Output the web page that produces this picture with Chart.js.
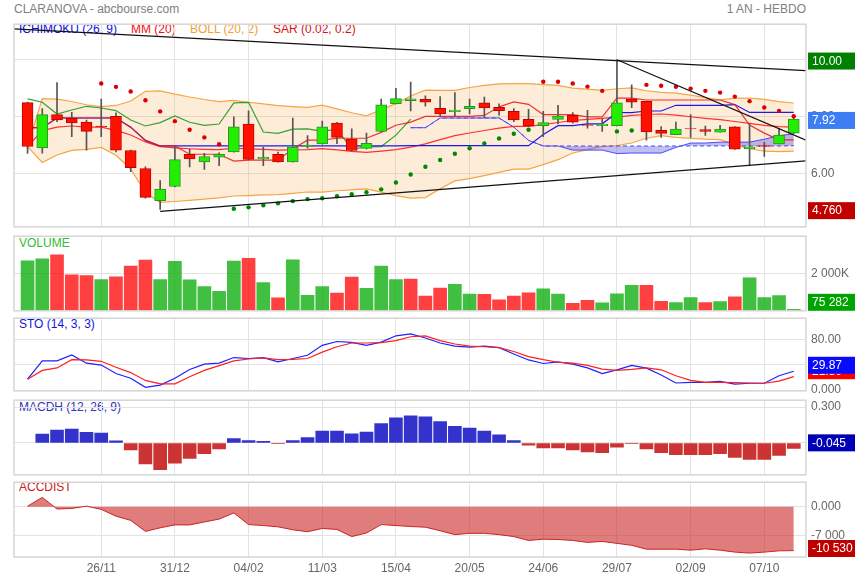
<!DOCTYPE html>
<html>
<head>
<meta charset="utf-8">
<script src="https://cdn.jsdelivr.net/npm/chart.js@4.4.0/dist/chart.umd.min.js"></script>
<style>
  body { margin: 0; background: #fff; font-family: "Liberation Sans", Arial, sans-serif; }
  #wrap { position: relative; width: 855px; height: 580px; overflow: hidden; }
  #wrap canvas { position: absolute; left: 0; }
  .t { position: absolute; font-size: 12px; line-height: 14px; white-space: nowrap; }
</style>
</head>
<body>
<div id="wrap">
  <div class="t" style="left:14px;top:2px;color:#808080">CLARANOVA - abcbourse.com</div>
  <div class="t" style="right:49px;top:2px;color:#808080">1 AN - HEBDO</div>
  <div class="t" style="left:19px;top:22px;color:#1010dd">ICHIMOKU (26, 9)</div>
  <div class="t" style="left:131px;top:22px;color:#ee1010">MM (20)</div>
  <div class="t" style="left:190px;top:22px;color:#f5a030">BOLL (20, 2)</div>
  <div class="t" style="left:273px;top:22px;color:#dd1010">SAR (0.02, 0.2)</div>
  <div class="t" style="left:19px;top:236px;color:#33bb33">VOLUME</div>
  <div class="t" style="left:19px;top:317px;color:#1515dd">STO (14, 3, 3)</div>
  <div class="t" style="left:19px;top:400px;color:#3333bb">MACDH (12, 26, 9)</div>
  <div class="t" style="left:19px;top:480px;color:#cc2020">ACCDIST</div>

  <canvas id="cPrice" width="855" height="227" style="top:12px"></canvas>
  <canvas id="cVol" width="855" height="99" style="top:224px"></canvas>
  <canvas id="cSto" width="855" height="97" style="top:306px"></canvas>
  <canvas id="cMacd" width="855" height="99" style="top:388px"></canvas>
  <canvas id="cAcc" width="855" height="110" style="top:470px"></canvas>
</div>

<script>
const FONT = '"Liberation Sans", Arial, sans-serif';

// weekly candles, one year
const weeks = ['22/10','29/10','05/11','12/11','19/11','26/11','03/12','10/12','17/12','24/12',
  '31/12','07/01','14/01','21/01','28/01','04/02','11/02','18/02','25/02','04/03',
  '11/03','18/03','25/03','01/04','08/04','15/04','22/04','29/04','06/05','13/05',
  '20/05','27/05','03/06','10/06','17/06','24/06','01/07','08/07','15/07','22/07',
  '29/07','05/08','12/08','19/08','26/08','02/09','09/09','16/09','23/09','30/09',
  '07/10','14/10','21/10'];
const dateTicks = ['26/11','31/12','04/02','11/03','15/04','20/05','24/06','29/07','02/09','07/10'];

const opens = [8.50,6.91,8.08,7.95,7.82,7.68,8.02,6.82,6.19,5.06,5.56,6.69,6.42,6.59,6.77,7.75,6.53,6.69,6.42,6.96,
  7.05,7.78,7.22,6.89,7.49,8.46,8.57,8.61,8.30,8.18,8.29,8.49,8.33,8.19,7.91,7.69,7.91,8.05,7.72,7.69,
  7.69,8.62,8.54,7.53,7.38,7.59,7.55,7.46,7.65,6.88,6.99,7.05,7.43];
const highs = [8.52,8.29,9.20,8.16,7.89,8.62,8.14,6.84,6.25,5.77,6.97,6.86,6.72,6.74,8.00,8.21,6.94,6.77,7.96,7.34,
  7.85,7.81,7.58,7.43,8.62,9.00,9.22,8.74,8.71,8.85,8.62,8.69,8.46,8.29,8.26,8.19,8.40,8.15,8.23,7.91,
  10.00,9.12,8.55,7.66,7.82,8.08,7.68,7.70,7.66,7.75,7.11,7.60,8.05];
const lows = [6.72,6.73,7.83,7.31,6.83,7.31,6.77,6.08,5.15,4.76,5.55,6.25,6.16,6.29,6.76,6.50,6.29,6.41,6.41,6.90,
  7.04,7.06,6.81,6.88,7.48,8.45,8.21,8.37,8.02,8.02,8.10,7.96,8.06,7.83,7.66,7.31,7.75,7.78,7.60,7.49,
  7.68,8.32,7.18,7.28,7.38,7.28,7.35,7.46,6.86,6.31,6.61,7.05,7.42];
const closes = [6.96,8.08,7.89,7.79,7.49,7.65,6.83,6.22,5.18,5.47,6.50,6.53,6.61,6.69,7.65,6.51,6.58,6.42,6.94,7.01,
  7.65,7.28,6.82,7.07,8.42,8.64,8.63,8.51,8.10,8.24,8.37,8.31,8.22,7.89,7.68,7.80,8.03,7.81,7.70,7.75,
  8.49,8.51,7.47,7.42,7.57,7.58,7.49,7.57,6.87,6.95,6.96,7.36,7.92];

const volumes = [2718000,2821000,3043000,1949000,1915000,1692000,1846000,2427000,2752000,1692000,
  2684000,1675000,1316000,1060000,2701000,2855000,1538000,701000,2769000,838000,
  1316000,957000,1829000,1214000,2427000,1692000,1727000,795000,1231000,1436000,
  906000,889000,598000,803000,974000,1197000,906000,410000,564000,427000,
  923000,1385000,1385000,513000,444000,718000,444000,496000,752000,1795000,
  718000,820000,75282];

const sar = [null,null,null,null,null,9.17,9.05,8.89,8.58,8.19,7.85,7.55,7.28,7.04,4.78,4.83,4.90,4.97,5.05,5.12,
  5.15,5.22,5.29,5.36,5.46,5.70,5.98,6.25,6.49,6.71,6.90,7.07,7.24,7.41,7.55,9.23,9.23,9.17,9.06,8.91,
  7.49,7.52,9.12,9.09,9.05,8.99,8.91,8.85,8.71,8.55,8.33,8.21,8.02];

const mm20 = [6.96,7.52,7.643,7.68,7.642,7.643,7.527,7.364,7.121,6.956,6.915,6.883,6.862,6.849,6.903,6.878,6.861,6.836,6.842,6.850,
  6.885,6.845,6.791,6.755,6.802,6.851,6.942,7.056,7.202,7.341,7.434,7.523,7.604,7.664,7.665,7.730,7.802,7.872,7.910,7.947,
  7.989,8.050,8.083,8.100,8.058,8.004,7.947,7.900,7.838,7.774,7.703,7.656,7.641];
const bollUp = [6.96,8.64,8.622,8.537,8.424,8.356,8.399,8.553,8.893,8.907,8.794,8.694,8.608,8.534,8.579,8.512,8.453,8.396,8.361,8.332,
  8.407,8.279,8.143,8.035,8.243,8.463,8.732,8.938,8.925,8.925,9.029,9.105,9.155,9.161,9.162,9.131,9.104,9.009,8.968,8.926,
  8.985,9.015,8.915,8.857,8.834,8.759,8.674,8.596,8.659,8.658,8.610,8.530,8.486];
const bollLow = [6.96,6.40,6.664,6.823,6.860,6.930,6.655,6.175,5.349,5.005,5.036,5.072,5.116,5.164,5.227,5.244,5.269,5.276,5.323,5.368,
  5.363,5.411,5.439,5.475,5.361,5.239,5.152,5.174,5.479,5.757,5.839,5.941,6.053,6.167,6.168,6.329,6.500,6.735,6.852,6.968,
  6.993,7.085,7.251,7.343,7.282,7.249,7.220,7.204,7.017,6.890,6.796,6.782,6.796];

const tenkan = [7.62,7.62,7.96,7.96,7.96,7.96,7.96,7.64,7.175,6.98,6.98,6.69,6.69,6.69,6.45,6.485,6.485,6.485,6.88,7.185,
  7.185,7.25,7.25,7.25,7.455,7.705,7.815,8.015,8.015,8.015,8.015,8.05,8.35,8.525,8.44,8.08,8.08,8.08,8.00,8.00,
  8.655,8.655,8.59,8.59,8.59,8.59,8.59,8.59,8.43,7.715,7.43,7.195,7.195];
const kijun = [7.62,7.62,7.96,7.96,7.96,7.96,7.96,7.64,7.175,6.98,6.98,6.98,6.98,6.98,6.98,6.98,6.98,6.98,6.98,6.98,
  6.98,6.98,6.98,6.98,6.98,6.98,6.99,6.99,6.99,6.99,6.99,6.99,6.99,6.99,6.99,7.385,7.69,7.69,7.755,7.755,
  8.145,8.145,8.205,8.205,8.405,8.405,8.405,8.405,8.43,8.155,8.155,8.155,8.155];
// spans projected 26 weeks ahead, chikou drawn 26 weeks back
const ichiShift = 26;
const senkouA = [7.62,7.62,7.96,7.96,7.96,7.96,7.96,7.64,7.175,6.98,6.98,6.835,6.835,6.835,6.715,6.7325,6.7325,6.7325,6.93,7.0825,
  7.0825,7.115,7.115,7.115,7.2175,7.3425,7.4025];
const senkouB = [7.62,7.62,7.96,7.96,7.96,7.96,7.96,7.64,7.175,6.98,6.98,6.98,6.98,6.98,6.98,6.98,6.98,6.98,6.98,6.98,
  6.98,6.98,6.98,6.98,6.98,6.98,6.99];

// trend lines: [week index, price] at both ends
const trendStart = [[-0.92, 11.08], [9, 4.69], [40, 10.00]];
const trendEnd = [[52.83, 9.62], [52.83, 6.46], [52.83, 7.18]];

const stoK = [17.3,46.3,46.3,55.7,42.7,39.7,26.3,18.8,4.5,7.9,18.8,32.8,41.2,42.7,51.6,50.1,51.6,44.8,50.1,55.2,
  71.0,77.0,75.5,71.0,76.1,86.0,89.0,82.5,74.6,69.6,68.1,69.6,67.2,57.2,47.8,42.2,44.8,41.2,35.2,26.3,
  32.2,39.3,34.8,23.9,11.3,12.4,12.4,13.9,9.4,10.9,10.9,22.8,29.87];
const stoD = [17.3,31.3,35.2,48.2,47.8,45.7,36.3,27.8,15.4,9.9,9.9,21.3,31.3,38.8,46.3,49.3,51.2,48.2,48.7,50.1,
  60.1,68.7,74.6,74.6,75.1,78.5,84.5,86.0,78.5,73.1,69.6,68.7,67.2,61.2,53.1,48.2,44.2,42.7,39.3,33.3,
  31.3,32.8,35.2,32.2,22.8,15.4,12.4,12.4,11.9,11.3,10.9,14.3,21.3];

const macdh = [null,0.074,0.108,0.116,0.090,0.082,0.018,-0.058,-0.176,-0.224,-0.168,-0.129,-0.090,-0.050,0.037,0.021,0.013,-0.005,0.021,0.045,
  0.100,0.100,0.076,0.092,0.163,0.211,0.226,0.218,0.179,0.139,0.124,0.100,0.068,0.021,-0.018,-0.042,-0.042,-0.058,-0.074,-0.082,
  -0.034,-0.003,-0.050,-0.082,-0.097,-0.097,-0.097,-0.090,-0.121,-0.137,-0.137,-0.105,-0.045];

const accdist = [156,2255,-544,-389,156,-622,-2255,-3267,-5911,-5056,-4356,-4356,-3656,-2956,-1478,-4278,-4511,-4822,-5522,-5989,
  -5211,-5444,-7156,-6300,-4278,-4511,-4744,-4900,-5756,-6689,-6378,-6378,-6689,-7156,-8089,-7778,-7856,-8089,-8556,-8322,
  -8789,-9256,-10189,-10189,-10189,-10422,-10111,-10422,-10889,-11122,-10889,-10578,-10530];

const priceTicks = [6, 8, 10], priceTickLabels = ['6.00', '8.00', '10.00'];
const volTicks = [2000000], volTickLabels = ['2 000K'];
const stoTicks = [0, 40, 80], stoTickLabels = ['0.000', '', '80.00'];
const macdTicks = [0, 0.3], macdTickLabels = ['', '0.300'];
const accTicks = [-7000, 0], accTickLabels = ['-7 000', '0.000'];

Chart.defaults.font.family = FONT;

const pts = (arr, shift = 0) => arr.map((v, i) => ({ x: i + shift, y: v }));
const tickIdx = dateTicks.map(d => weeks.indexOf(d));
const X_MIN = -0.92, X_MAX = 52.83;

function xScale(showLabels) {
  return {
    type: 'linear', min: X_MIN, max: X_MAX, offset: false,
    afterBuildTicks: s => { s.ticks = tickIdx.map(v => ({ value: v })); },
    afterFit: s => { s.height = showLabels ? 23 : 0; },
    grid: { color: '#e3e3e3', drawTicks: false, offset: false },
    border: { display: false },
    ticks: {
      display: showLabels, padding: 4, color: '#666', autoSkip: false, maxRotation: 0,
      font: { size: 12 },
      callback: v => weeks[v] || ''
    }
  };
}

function yScale(min, max, ticks, labels) {
  return {
    position: 'right', min: min, max: max,
    afterBuildTicks: s => { s.ticks = ticks.map(v => ({ value: v })); },
    afterFit: s => { s.width = 49; },
    grid: { color: '#e3e3e3', drawTicks: false },
    border: { display: false },
    ticks: {
      padding: 5, color: '#666', autoSkip: false, font: { size: 12 },
      callback: v => { const k = ticks.indexOf(v); return k >= 0 ? labels[k] : ''; }
    }
  };
}

const framePlugin = {
  id: 'frame',
  afterDraw(chart) {
    const a = chart.chartArea, ctx = chart.ctx;
    ctx.save();
    ctx.strokeStyle = '#d6d6d6';
    ctx.lineWidth = 1.5;
    ctx.strokeRect(a.left, a.top, a.right - a.left, a.bottom - a.top);
    ctx.restore();
  }
};

// last-value tags on the right axis
function valueBoxes(boxes) {
  return {
    id: 'valueBoxes',
    afterDraw(chart) {
      const { ctx, chartArea } = chart;
      const y = chart.scales.y;
      ctx.save();
      ctx.font = '12px ' + FONT;
      ctx.textBaseline = 'middle';
      boxes.forEach(b => {
        let cy = y.getPixelForValue(b.value) + (b.dy !== undefined ? b.dy : 1.3);
        cy = Math.max(chartArea.top + 8.5, Math.min(chartArea.bottom - 8.5, cy));
        ctx.fillStyle = b.bg;
        ctx.fillRect(chartArea.right + 2, cy - 8.5, chart.width - chartArea.right - 2, 17);
        ctx.fillStyle = '#fff';
        ctx.fillText(b.text, chartArea.right + 6, cy + 0.5);
      });
      ctx.restore();
    }
  };
}

function baseOptions(yScaleCfg, bottom, showX) {
  return {
    responsive: false, animation: false, events: [],
    layout: { padding: { left: 14, right: 0, top: 10, bottom: bottom } },
    plugins: { legend: { display: false }, tooltip: { enabled: false } },
    scales: { x: xScale(showX), y: yScaleCfg }
  };
}

// ---- price panel ----
const upColor = '#22ee00', downColor = '#ff1100';
const priceSets = [
  { type: 'line', data: pts(bollUp), borderColor: '#f7a544', borderWidth: 1.2, pointRadius: 0,
    fill: '+1', backgroundColor: 'rgba(245,160,60,0.2)', order: 20 },
  { type: 'line', data: pts(bollLow), borderColor: '#f7a544', borderWidth: 1.2, pointRadius: 0, fill: false, order: 20 },
  { type: 'line', data: pts(senkouA, ichiShift), borderColor: '#4a4aff', borderWidth: 1, pointRadius: 0,
    fill: '+1', backgroundColor: 'rgba(60,60,220,0.33)', order: 19 },
  { type: 'line', data: pts(senkouB, ichiShift), borderColor: '#4a4aff', borderWidth: 1, borderDash: [4, 3],
    pointRadius: 0, fill: false, order: 19 },
  { type: 'line', data: pts(mm20), borderColor: '#ff3030', borderWidth: 1.2, pointRadius: 0, fill: false, order: 16 },
  { type: 'line', data: pts(closes.slice(ichiShift)), borderColor: '#33a033', borderWidth: 1.2, pointRadius: 0, fill: false, order: 15 },
  { type: 'line', data: pts(kijun), borderColor: '#1a1aee', borderWidth: 1.2, pointRadius: 0, fill: false, order: 14 },
  { type: 'line', data: pts(tenkan), borderColor: 'rgba(235,20,20,0.85)', borderWidth: 1.2, pointRadius: 0, fill: false, order: 13 },
  { type: 'bar', data: lows.map((l, i) => ({ x: i, y: [l, highs[i]] })), backgroundColor: '#555',
    barThickness: 1, grouped: false, order: 6 },
  { type: 'bar', data: opens.map((o, i) => ({ x: i, y: [o, closes[i]] })),
    backgroundColor: opens.map((o, i) => closes[i] >= o ? upColor : downColor),
    borderColor: opens.map((o, i) => closes[i] >= o ? '#2f8f2f' : '#c00000'),
    borderWidth: 1, borderSkipped: false, barThickness: 11, grouped: false, order: 5 },
  { type: 'line', data: pts(sar), showLine: false, pointRadius: 2.2, pointBorderWidth: 0,
    pointBackgroundColor: sar.map((s, i) => s !== null && s > closes[i] ? '#dd0000' : '#008800'), order: 2 }
];
trendStart.forEach((s, k) => {
  priceSets.push({ type: 'line', data: [{ x: s[0], y: s[1] }, { x: trendEnd[k][0], y: trendEnd[k][1] }],
    borderColor: '#111', borderWidth: 1.2, pointRadius: 0, fill: false, order: 1 });
});

new Chart(document.getElementById('cPrice'), {
  type: 'line',
  data: { datasets: priceSets },
  options: baseOptions(yScale(4.149, 11.245, priceTicks, priceTickLabels), 10, false),
  plugins: [framePlugin, valueBoxes([
    { value: 10.0, text: '10.00', bg: '#008000' },
    { value: 7.92, text: '7.92', bg: '#3d7ef5' },
    { value: 4.76, text: '4.760', bg: '#c00000' }
  ])]
});

// ---- volume ----
new Chart(document.getElementById('cVol'), {
  type: 'bar',
  data: { datasets: [{
    data: pts(volumes),
    backgroundColor: volumes.map((v, i) => (i === 0 || closes[i] >= closes[i - 1]) ? 'rgba(0,170,0,0.75)' : 'rgba(255,0,0,0.75)'),
    barThickness: 13, grouped: false
  }] },
  options: baseOptions(yScale(0, 4051000, volTicks, volTickLabels), 10, false),
  plugins: [framePlugin, valueBoxes([{ value: volumes[volumes.length - 1], text: '75 282', bg: '#00a400' }])]
});

// ---- stochastic ----
new Chart(document.getElementById('cSto'), {
  type: 'line',
  data: { datasets: [
    { data: pts(stoD), borderColor: '#ff2020', borderWidth: 1.2, pointRadius: 0 },
    { data: pts(stoK), borderColor: '#2020ff', borderWidth: 1.2, pointRadius: 0 }
  ] },
  options: baseOptions(yScale(-1.04, 113.9, stoTicks, stoTickLabels), 10, false),
  plugins: [framePlugin, valueBoxes([
    { value: stoD[stoD.length - 1], text: '21.30', bg: '#ff0000', dy: -6 },
    { value: stoK[stoK.length - 1], text: '29.87', bg: '#0a0aff', dy: -6 }
  ])]
});

// ---- MACD histogram ----
new Chart(document.getElementById('cMacd'), {
  type: 'bar',
  data: { datasets: [{
    data: pts(macdh),
    backgroundColor: macdh.map(v => v !== null && v >= 0 ? '#3333cc' : '#cc3333'),
    barThickness: 13, grouped: false
  }] },
  options: baseOptions(yScale(-0.266, 0.3576, macdTicks, macdTickLabels), 10, false),
  plugins: [framePlugin, valueBoxes([{ value: macdh[macdh.length - 1], text: '-0.045', bg: '#0000b4', dy: -5.5 }])]
});

// ---- accumulation / distribution ----
new Chart(document.getElementById('cAcc'), {
  type: 'line',
  data: { datasets: [{
    data: pts(accdist), borderColor: '#cc2222', borderWidth: 1, pointRadius: 0,
    fill: 'origin', backgroundColor: 'rgba(200,30,30,0.58)'
  }] },
  options: baseOptions(yScale(-12063, 5903, accTicks, accTickLabels), 0, true),
  plugins: [framePlugin, valueBoxes([{ value: accdist[accdist.length - 1], text: '-10 530', bg: '#c00000' }])]
});
</script>
</body>
</html>
